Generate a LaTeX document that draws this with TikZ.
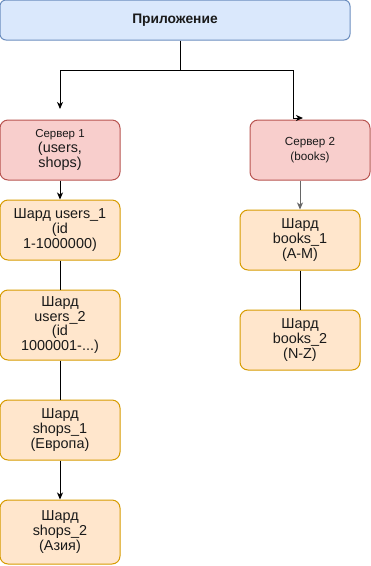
\documentclass[tikz,border=0pt]{standalone}
\usepackage{fontspec}
\setmainfont{Liberation Sans}
\usetikzlibrary{arrows.meta}

\definecolor{appfill}{HTML}{DAE8FC}
\definecolor{appline}{HTML}{6C8EBF}
\definecolor{srvfill}{HTML}{F8CECC}
\definecolor{srvline}{HTML}{B85450}
\definecolor{shfill}{HTML}{FFE6CC}
\definecolor{shline}{HTML}{D79B00}
\definecolor{txt}{HTML}{1A1A1A}

\tikzset{
  x=1pt, y=1pt,
  box/.style={rounded corners=8pt, line width=1pt, inner sep=0pt, align=center,
    text=txt, font=\fontsize{14.4}{14.6}\selectfont},
  appbox/.style={box, rounded corners=6pt, fill=appfill, draw=appline,
    minimum width=350pt, minimum height=40pt, font=\bfseries\fontsize{13.8}{14}\selectfont},
  srvbox/.style={box, fill=srvfill, draw=srvline, minimum width=120pt, minimum height=60pt},
  shardbox/.style={box, fill=shfill, draw=shline, minimum width=120pt},
  link/.style={line width=1pt, draw=black},
  arr/.style={link, -{Stealth[length=7pt,width=6pt,inset=2pt]}},
}

\begin{document}
\begin{tikzpicture}
\useasboundingbox (0,0) rectangle (371,-566);

% application
\node[appbox] (app) at (175,-20) {Приложение};

% left column: server 1 and its shards
\node[srvbox] (s1) at (60,-150)
  {{\fontsize{11.5}{15}\selectfont Сервер 1}\\(users,\\shops)};
\node[shardbox, minimum height=60pt] (u1) at (60,-230) {Шард users\_1\\(id\\1-1000000)};
\node[shardbox, minimum height=70pt] (u2) at (60,-325) {Шард\\users\_2\\(id\\1000001-...)};
\node[shardbox, minimum height=60pt] (p1) at (60,-430) {Шард\\shops\_1\\(Европа)};
\node[shardbox, minimum height=64pt] (p2) at (60,-532) {Шард\\shops\_2\\(Азия)};

% right column: server 2 and its shards
\node[srvbox, font=\fontsize{11.7}{15}\selectfont] (s2) at (310,-150)
  {Сервер 2\\(books)};
\node[shardbox, minimum height=60pt] (b1) at (300,-240) {Шард\\books\_1\\(A-M)};
\node[shardbox, minimum height=60pt] (b2) at (300,-340) {Шард\\books\_2\\(N-Z)};

% routing points
\coordinate (fork) at (180,-70);
\coordinate (s1in) at (60,-109);
\coordinate (bend) at (293,-118);
\coordinate (s2in) at (303,-118);

% connectors
\draw[link] (app.south -| fork) -- (fork);
\draw[arr] (fork) -| (s1in);
\draw[arr] (fork) -| (bend) -- (s2in);
\draw[arr] (s1) -- (u1);
\draw[link] (u1) -- (u2);
\draw[link] (u2) -- (p1);
\draw[arr] (p1) -- (p2);
\draw[arr, draw=black!60] (s2.south -| b1) -- (b1);
\draw[link] (b1) -- (b2);
\end{tikzpicture}
\end{document}
